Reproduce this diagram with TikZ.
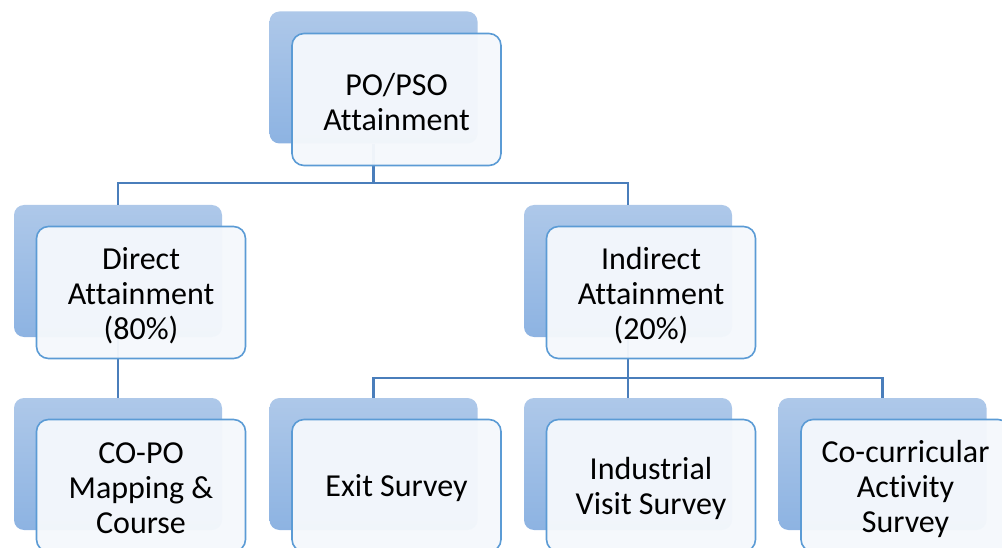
\documentclass[tikz,border=0pt]{standalone}
\usepackage{fontspec}
\setmainfont{Carlito}[Ligatures=NoCommon]
\definecolor{backtop}{RGB}{174,200,233}
\definecolor{backbot}{RGB}{141,179,226}
\definecolor{frontfill}{RGB}{245,248,252}
\definecolor{frontline}{RGB}{91,155,213}
\definecolor{connc}{RGB}{74,126,187}
\begin{document}
\begin{tikzpicture}[x=1pt,y=-1pt,
  backbox/.style={rounded corners=10pt, minimum width=208pt, minimum height=132pt,
    top color=backtop, bottom color=backbot, draw=none, inner sep=0pt},
  frontbox/.style={rounded corners=12pt, minimum width=209pt, minimum height=132pt,
    draw=frontline, line width=1.6pt, fill=frontfill, fill opacity=0.96,
    draw opacity=1, inner sep=0pt},
  boxtext/.style={align=center, inner sep=0pt, yshift=-3pt,
    font=\fontsize{32}{35}\selectfont},
  conn/.style={draw=connc, line width=2.1pt}]
\useasboundingbox (0,0) rectangle (1002,548);
\clip (0,0) rectangle (1002,548);
% back boxes
\node[backbox] (pob) at (373.5,77.5) {};
\node[backbox] (dirb) at (118,271) {};
\node[backbox] (indb) at (628,271) {};
\node[backbox] (copob) at (118,464) {};
\node[backbox] (exitb) at (373.5,464) {};
\node[backbox] (indvb) at (628,464) {};
\node[backbox] (cocb) at (882.5,464) {};
% connectors
\coordinate (bar1) at (373.5,183);
\coordinate (bar2) at (628,378);
\draw[conn] (pob.south) -- (bar1);
\draw[conn] (dirb.north) |- (bar1) -| (indb.north);
\draw[conn] (dirb.south) -- (copob.north);
\draw[conn] (indb.south) -- (bar2) -- (indvb.north);
\draw[conn] (exitb.north) |- (bar2) -| (cocb.north);
% front boxes
\node[frontbox] (po) at (396.5,99.5) {};
\node[frontbox] (dir) at (141,292.5) {};
\node[frontbox] (ind) at (651,292.5) {};
\node[frontbox] (copo) at (141,485.5) {};
\node[frontbox] (exit) at (396.5,485.5) {};
\node[frontbox] (indv) at (651,485.5) {};
\node[frontbox] (coc) at (905.5,485.5) {};
% texts
\node[boxtext] (pot) at (po.center) {PO/PSO\\Attainment};
\node[boxtext] (dirt) at (dir.center) {Direct\\Attainment\\(80\%)};
\node[boxtext] (indt) at (ind.center) {Indirect\\Attainment\\(20\%)};
\node[boxtext] (copot) at (copo.center) {CO-PO\\Mapping \&\\Course};
\node[boxtext] (exitt) at (exit.center) {Exit Survey};
\node[boxtext] (indvt) at (indv.center) {Industrial\\Visit Survey};
\node[boxtext] (coct) at (coc.center) {Co-curricular\\Activity\\Survey};
\end{tikzpicture}
\end{document}
